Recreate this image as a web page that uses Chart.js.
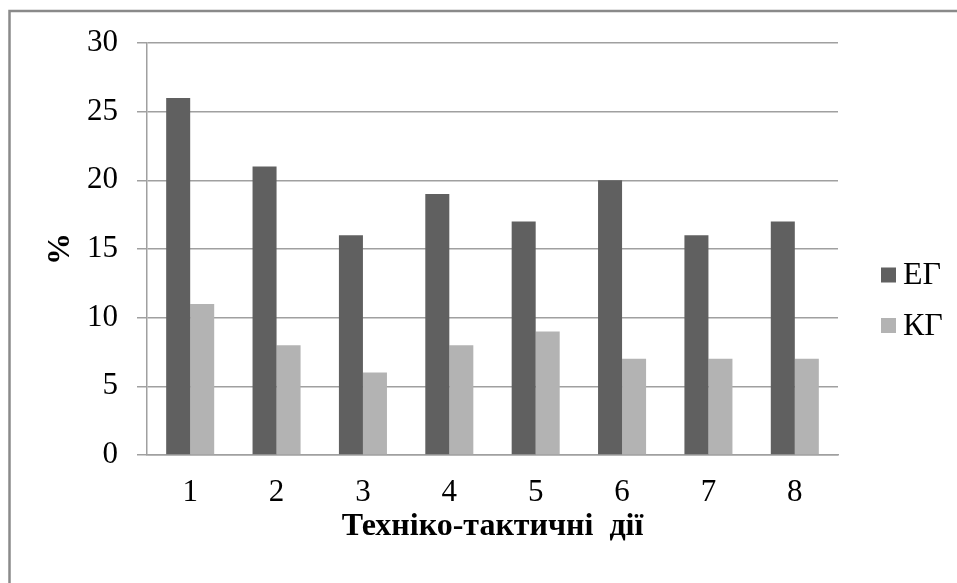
<!DOCTYPE html>
<html><head><meta charset="utf-8">
<script src="https://cdn.jsdelivr.net/npm/chart.js@4/dist/chart.umd.min.js"></script>
<style>html,body{margin:0;padding:0;background:#fff}#wrap{width:957px;height:583px}</style>
</head><body><div id="wrap"><canvas id="c"></canvas></div>
<script>
const categories = ['1','2','3','4','5','6','7','8'];
const egValues = [26,21,16,19,17,20,16,17];
const kgValues = [11,8,6,8,9,7,7,7];
const seriesNames = ['ЕГ','КГ'];
const yTicks = [0,5,10,15,20,25,30];
const xTitle = 'Техніко-тактичні  дії';
const yTitle = '%';

const FONT = "'Liberation Serif','Times New Roman',serif";
const frame = {id:'frame', beforeDraw(ch){const c=ch.ctx;c.save();c.fillStyle='#fff';c.fillRect(0,0,ch.width,ch.height);c.strokeStyle='#8a8a8a';c.lineWidth=2.5;c.strokeRect(9.5,11,ch.width+20,ch.height+20);c.restore();}};
const legendPl = {id:'legendPl', afterDraw(ch){const c=ch.ctx;c.save();c.font='32px '+FONT;c.textBaseline='middle';
  ch.data.datasets.forEach((d,i)=>{const y=275+i*50.5;c.fillStyle=d.backgroundColor;c.fillRect(881,y-7.5,15,15);c.fillStyle='#000';c.fillText(d.label,903,y+1);});c.restore();}};

new Chart(document.getElementById('c'),{
  type:'bar',
  data:{labels:categories,datasets:[
    {label:seriesNames[0],data:egValues,backgroundColor:'#606060'},
    {label:seriesNames[1],data:kgValues,backgroundColor:'#b3b3b3'}]},
  options:{responsive:true,maintainAspectRatio:false,animation:false,
    layout:{padding:{top:43,right:119,bottom:28,left:0}},
    datasets:{bar:{categoryPercentage:0.556,barPercentage:1}},
    plugins:{legend:{display:false},tooltip:{enabled:false}},
    scales:{
      x:{grid:{display:false,drawTicks:false},border:{display:true,color:'#a0a0a0',width:1.5},
         ticks:{color:'#000',font:{family:FONT,size:31},padding:19,maxRotation:0},
         title:{display:true,text:xTitle,color:'#000',font:{family:FONT,size:32,weight:'bold'},padding:{top:0,bottom:9}},
         afterFit(s){s.height=100;}},
      y:{min:0,max:30,afterBuildTicks(s){s.ticks=yTicks.map(v=>({value:v}));},
         grid:{color:'#a0a0a0',lineWidth:1.5,tickLength:10},border:{display:true,color:'#a0a0a0',width:1.5},
         ticks:{color:'#000',font:{family:FONT,size:31},padding:19},
         title:{display:true,text:yTitle,color:'#000',font:{family:FONT,size:32,weight:'bold'},padding:{top:42,bottom:0}},
         afterFit(s){s.width=147;}}
    }},
  plugins:[frame,legendPl]
});
</script></body></html>
